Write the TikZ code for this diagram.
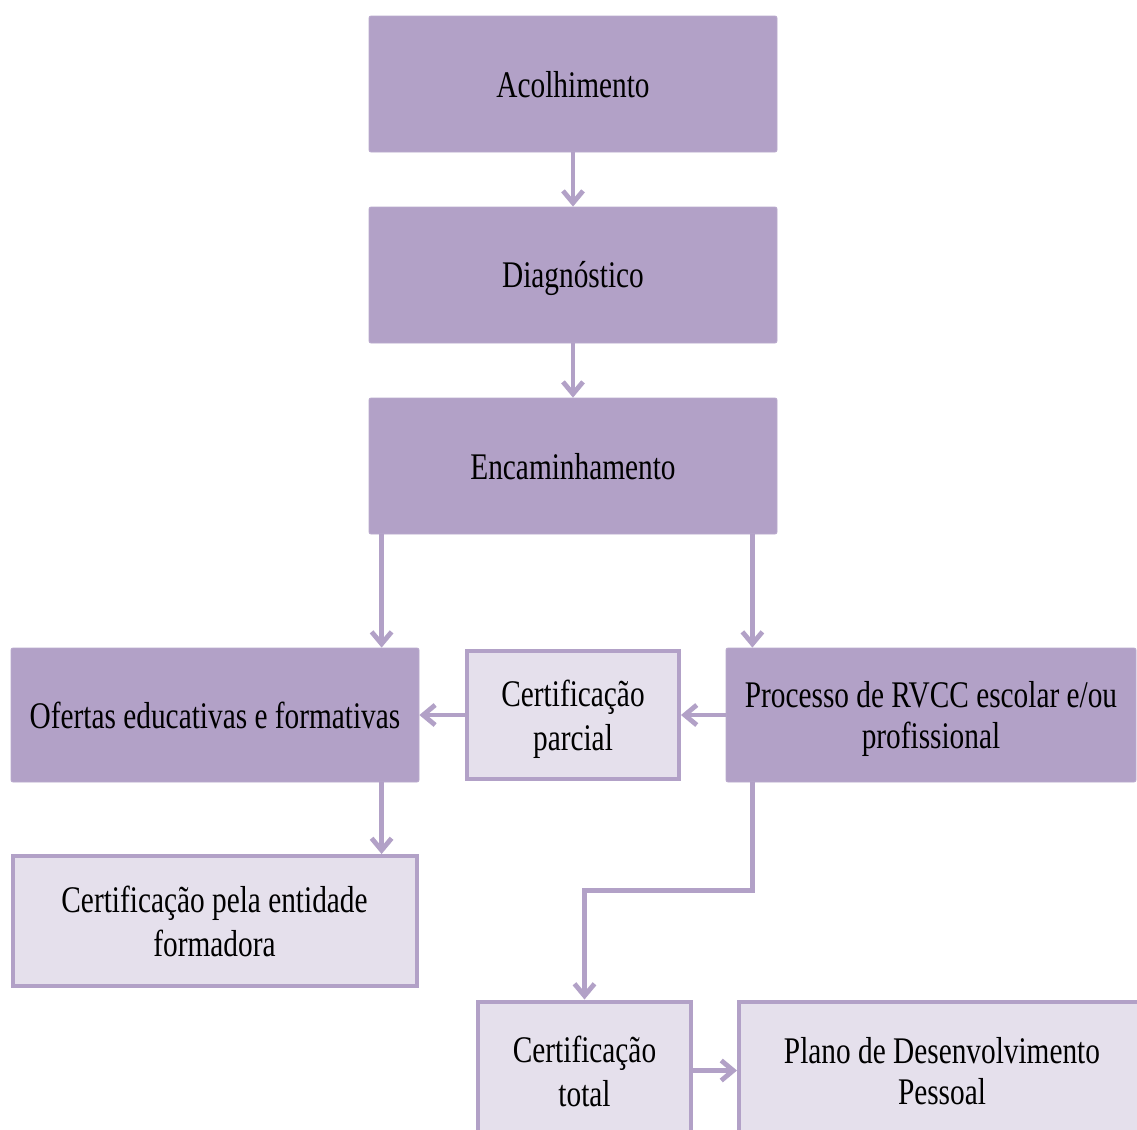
\documentclass[tikz,border=0pt]{standalone}
\usepackage{fontspec}
\setmainfont{Liberation Serif}[FakeStretch=0.78]
\usetikzlibrary{arrows.meta,calc}
\definecolor{boxdark}{HTML}{B2A1C7}
\definecolor{boxlight}{HTML}{E5E0EC}
% fixed line height/depth so every text line sits at the same place
\newcommand\bs{\rule[-3.4pt]{0pt}{20.4pt}}
\begin{document}
\begin{tikzpicture}[x=0.5pt,y=-0.5pt,
  every node/.style={align=center,inner sep=0pt,
    font=\fontsize{18.8}{20.6}\selectfont},
  darkbox/.style={fill=boxdark,draw=boxdark!90!white,line width=0.4pt,rounded corners=1pt},
  lightbox/.style={fill=boxlight,draw=boxdark,line width=2pt},
  arr/.style={draw=boxdark,line width=2.4pt,
    -{Straight Barb[length=6pt,width=10pt,line width=2.4pt]}}]
  \clip (0,0) rectangle (1137,1130);
  \fill[white] (0,0) rectangle (1137,1130);

  % top column
  \node[darkbox,minimum width=204pt,minimum height=68pt] (acol) at (573,84) {\bs Acolhimento};
  \node[darkbox,minimum width=204pt,minimum height=68pt] (diag) at (573,275) {\bs Diagnóstico};
  \node[darkbox,minimum width=204pt,minimum height=68pt] (enc)  at (573,466) {\bs Encaminhamento};

  % middle row
  \node[darkbox,minimum width=204pt,minimum height=67pt] (ofer) at (215,715) {\bs Ofertas educativas e formativas};
  \node[lightbox,minimum width=106pt,minimum height=64pt] (parc) at (573,715) {\bs Certificação\\\bs parcial};
  \node[darkbox,minimum width=205pt,minimum height=67pt] (proc) at (931,715) {\bs Processo de RVCC escolar e/ou\\\bs profissional};

  % lower boxes
  \node[lightbox,minimum width=202pt,minimum height=65pt] (ent) at (214.5,921) {\bs Certificação pela entidade\\\bs formadora};
  \node[lightbox,minimum width=106.5pt,minimum height=69pt] (tot) at (584.5,1070.5) {\bs Certificação\\\bs total};
  \node[lightbox,minimum width=203pt,minimum height=69pt] (plan) at (942,1070.5) {\bs Plano de Desenvolvimento\\\bs Pessoal};

  % connectors
  \draw[arr] (acol) -- (diag);
  \draw[arr] (diag) -- (enc);
  \coordinate (eL) at ($(enc.south west)+(13,0)$);
  \coordinate (eR) at ($(enc.south east)+(-25,0)$);
  \draw[arr] (eL) -- (eL |- ofer.north);
  \draw[arr] (eR) -- (eR |- proc.north);
  \draw[arr] (proc) -- (parc);
  \draw[arr] (parc) -- (ofer);
  \draw[arr] (eL |- ofer.south) -- (eL |- ent.north);
  \coordinate (turn) at ($(eR |- proc.south)+(0,108)$);
  \draw[arr] (eR |- proc.south) -- (turn) -| (tot.north);
  \draw[arr] (tot) -- (plan);
\end{tikzpicture}
\end{document}
